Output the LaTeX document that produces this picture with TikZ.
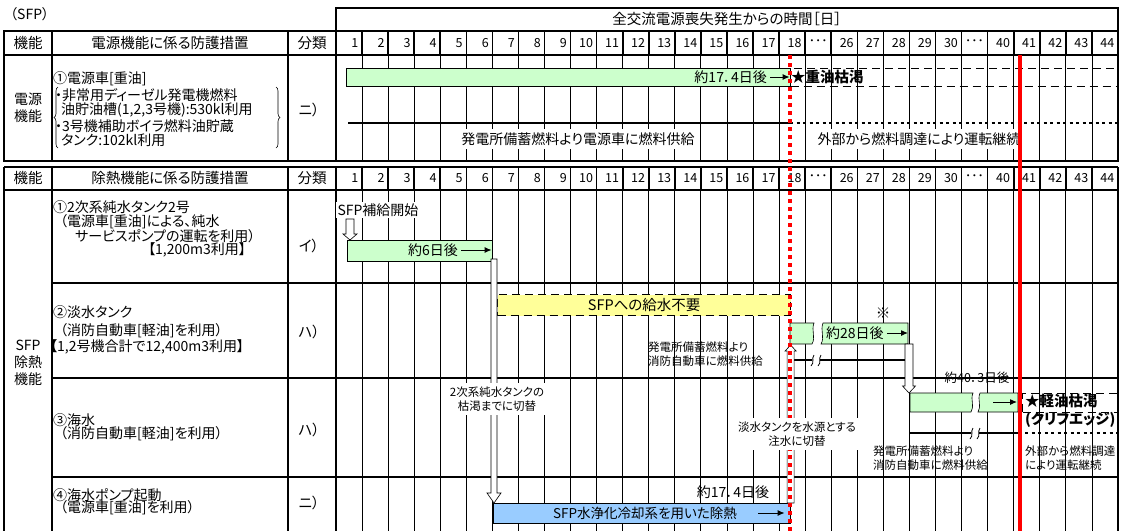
\documentclass[tikz,border=0pt]{standalone}
\usepackage{fontspec}
\setmainfont[RawFeature=+palt]{Noto Sans CJK JP}
\usetikzlibrary{calc}
\usetikzlibrary{arrows.meta}
\usetikzlibrary{decorations.pathreplacing}
\definecolor{palegreen}{RGB}{204, 255, 204}
\definecolor{paleyellow}{RGB}{255, 255, 153}
\definecolor{paleblue}{RGB}{153, 204, 255}
\definecolor{signalred}{RGB}{255, 0, 0}
\newcommand\fsz[1]{\fontsize{#1}{#1}\selectfont}
\newcommand\dayx[1]{336+26.067*#1}
\newcommand\hollowarrow[5]{\filldraw[fill=white, draw=black, line width=0.6pt]
    let \p1=(#1), \p2=(#2) in
    ({\x1-#3pt},\y1) -- ({\x1-#3pt},{\y2+(#5)*1pt}) -- ({\x1-#4pt},{\y2+(#5)*1pt}) -- (\x1,\y2)
    -- ({\x1+#4pt},{\y2+(#5)*1pt}) -- ({\x1+#3pt},{\y2+(#5)*1pt}) -- ({\x1+#3pt},\y1) -- cycle;}
\tikzset{
  txt/.style       ={inner sep=0pt, anchor=west, font=\fsz{14}},
  heading/.style   ={inner sep=0pt, font=\fsz{14.5}},
  daynum/.style    ={inner sep=0pt, anchor=east, font=\fsz{12.5}},
  note/.style      ={inner sep=0pt, align=left, font=\fontsize{11.5}{14.5}\selectfont},
  clearbg/.style   ={fill=white, inner xsep=2pt, inner ysep=3pt},
  gridline/.style  ={line width=0.9pt},
  rule/.style      ={line width=1.6pt},
  curly/.style     ={decorate, decoration={brace, amplitude=4pt}, line width=0.6pt},
  gbox/.style      ={draw=black, fill=palegreen, line width=0.6pt, inner sep=0pt, anchor=north west},
  gpiece/.style    ={draw=black, fill=palegreen, line width=0.6pt},
  dashbox/.style   ={draw=black, dash pattern=on 8pt off 5pt, line width=1.3pt, inner sep=0pt, anchor=north west},
  supplyline/.style={line width=2.8pt},
  extline/.style   ={line width=2.8pt, dash pattern=on 3pt off 3.5pt},
  daytip/.style    ={-{Latex[length=7pt, width=6pt]}, line width=1pt},
  brk/.style       ={line width=0.8pt},
  cliff/.style     ={signalred, line width=4.5pt},
  halfway/.style   ={signalred, line width=3.5pt, dash pattern=on 4pt off 4pt}
}
\begin{document}
\begin{tikzpicture}[x=1pt, y=-1pt]
\useasboundingbox (0,0) rectangle (1130,531);
\foreach \k in {1,...,29}{
  \draw[gridline] ({\dayx{\k}},55) -- ({\dayx{\k}},161);
  \draw[gridline] ({\dayx{\k}},190) -- ({\dayx{\k}},531);
  \draw[rule]     ({\dayx{\k}},31) -- ({\dayx{\k}},55);
  \draw[rule]     ({\dayx{\k}},167) -- ({\dayx{\k}},190);
}
\draw[rule] (336,8) rectangle (1118,31);
\draw[rule] (4,31) rectangle (1118,161);
\draw[rule] (4,55) -- (1118,55);
\draw[rule] (52,31) -- (52,161) (288,31) -- (288,161) (336,31) -- (336,161);
\draw[rule] (4,167) -- (4,531) (52,167) -- (52,531) (288,167) -- (288,531) (336,167) -- (336,531) (1118,167) -- (1118,531);
\draw[rule] (4,190) -- (1118,190);
\draw[rule] (52,283) -- (1118,283) (52,378) -- (1118,378) (52,477) -- (1118,477);
\draw[line width=2.6pt] (4,167) -- (1118,167);
\foreach \lab [count=\k] in {1,2,3,4,5,6,7,8,9,10,11,12,13,14,15,16,17,18,･･･,26,27,28,29,30,･･･,40,41,42,43,44}{
  \node[daynum] (daya\k) at ({\dayx{\k}-3.5},43) {\lab};
  \node[daynum] (dayb\k) at ({\dayx{\k}-3.5},178) {\lab};
}
\node[txt]     (sfptag)  at (10,14)   {（SFP）};
\node[heading] (elapsed) at (727,19)  {全交流電源喪失発生からの時間［日］};
\node[heading] (func1)   at (28,43)   {機能};
\node[heading] (meas1)   at (170,43)  {電源機能に係る防護措置};
\node[heading] (class1)  at (312,43)  {分類};
\node[heading] (func2)   at (28,178)  {機能};
\node[heading] (meas2)   at (170,178) {除熱機能に係る防護措置};
\node[heading] (class2)  at (312,178) {分類};
\node[heading, align=center, font=\fontsize{14}{17}\selectfont] (powerfunc) at (28,108) {電源\\機能};
\node[heading, align=center, font=\fontsize{14}{17}\selectfont] (coolfunc)  at (28,363) {SFP\\除熱\\機能};
\node[txt] (pw1) at (53,79)  {①電源車[重油]};
\node[txt] (pw2) at (55,95)  {・非常用ディーゼル発電機燃料};
\node[txt] (pw3) at (61,110) {油貯油槽(1,2,3号機):530kl利用};
\node[txt] (pw4) at (55,126) {・3号機補助ボイラ燃料油貯蔵};
\node[txt] (pw5) at (61,140) {タンク:102kl利用};
\draw[curly] (58,148) -- (58,87);
\draw[curly] (276,87) -- (276,148);
\node[heading] (pwclass) at (309,110) {ニ）};
\node[txt] (m1a) at (53,207)  {①2次系純水タンク2号};
\node[txt] (m1b) at (60,222)  {（電源車[重油]による、純水};
\node[txt] (m1c) at (75,236)  {サービスポンプの運転を利用）};
\node[txt] (m1d) at (148,250) {【1,200m3利用】};
\node[heading] (cl1) at (309,246) {イ）};
\node[txt] (m2a) at (53,312)  {②淡水タンク};
\node[txt] (m2b) at (60,331)  {（消防自動車[軽油]を利用）};
\node[txt] (m2c) at (50,347)  {【1,2号機合計で12,400m3利用】};
\node[heading] (cl2) at (309,332) {ハ）};
\node[txt] (m3a) at (53,420)  {③海水};
\node[txt] (m3b) at (60,434)  {（消防自動車[軽油]を利用）};
\node[heading] (cl3) at (309,430) {ハ）};
\node[txt] (m4a) at (53,495)  {④海水ポンプ起動};
\node[txt] (m4b) at (60,508)  {（電源車[重油]を利用）};
\node[heading] (cl4) at (309,503) {ニ）};
\node[clearbg, font=\fsz{14}] (supplynote)  at (578,139) {発電所備蓄燃料より電源車に燃料供給};
\node[clearbg, font=\fsz{14}] (outsidenote) at (919,139) {外部から燃料調達により運転継続};
\node[gbox, minimum width=444pt, minimum height=18pt] (fuelbar)  at (346,68) {};
\node[dashbox, minimum width=328pt, minimum height=18pt] (heavydry) at (790,68) {};
\node[txt, anchor=east] (fueldays) at (767,77) {約17．4日後};
\draw[daytip, shorten <=3pt, shorten >=1pt] (fueldays.east) -- (fueldays.east -| fuelbar.east);
\node[txt, font=\fsz{14.5}\bfseries] (heavytxt) at (791,77) {★重油枯渇};
\coordinate (sup0) at (348,123);
\coordinate (sup1) at (790,123);
\coordinate (sup2) at (1118,123);
\draw[supplyline] (sup0) -- (sup1);
\draw[extline] (sup1) -- (sup2);
\node[clearbg, font=\fsz{14}, inner ysep=2pt] (refillstart) at (378,210) {SFP補給開始};
\node[gbox, minimum width=145pt, minimum height=21pt] (pump1) at (347,240) {};
\node[txt, anchor=east] (pump1days) at (458,250) {約6日後};
\draw[daytip, shorten <=3pt, shorten >=1pt] (pump1days.east) -- (pump1days.east -| pump1.east);
\coordinate (refilltop) at (350,219);
\hollowarrow{refilltop}{refilltop |- pump1.north}{4}{7}{6}
\node[dashbox, fill=paleyellow, minimum width=293pt, minimum height=21pt, font=\fsz{14.5}] (nofeed) at (497,294) {SFPへの給水不要};
\filldraw[gpiece] (790,323) -- (814,323) .. controls (811,331) and (816,337) .. (812,344) -- (790,344) -- cycle;
\filldraw[gpiece] (823,323) -- (908,323) -- (908,344) -- (821,344) .. controls (825,337) and (820,331) .. (823,323) -- cycle;
\coordinate (fresh0) at (790,345);
\coordinate (fresh1) at (909,344);
\node[txt] (freshdays) at (826,333) {約28日後};
\draw[daytip, shorten <=3pt, shorten >=1pt] (freshdays.east) -- (freshdays.east -| fresh1);
\node[heading] (remark) at (883,313) {※};
\draw[supplyline] (790,360) -- (812,360) (820,360) -- (905,360);
\draw[brk] (814,355) .. controls (811,359) and (815,362) .. (811,366) (821,355) .. controls (818,359) and (822,362) .. (818,366);
\node[note, anchor=west] (freshsupply) at (648,354) {発電所備蓄燃料より\\消防自動車に燃料供給};
\filldraw[gpiece] (910,393) -- (973,393) .. controls (970,400) and (975,406) .. (971,412) -- (910,412) -- cycle;
\filldraw[gpiece] (980,393) -- (1018,393) -- (1018,412) -- (978,412) .. controls (982,406) and (977,400) .. (980,393) -- cycle;
\coordinate (sea0) at (910,393);
\coordinate (seaarrow) at (993,402);
\coordinate (seaend) at (1017,402);
\draw[daytip] (seaarrow) -- (seaend);
\node[note, font=\fsz{12.5}] (seadays) at (977,378) {約40．3日後};
\node[dashbox, minimum width=96pt, minimum height=19pt] (lightdry) at (1022,393) {};
\node[txt, anchor=north west, align=left, font=\fontsize{14.5}{18}\bfseries] (lighttxt) at (1025,394) {★軽油枯渇\\(クリフエッジ)};
\draw[supplyline] (910,433) -- (971,433) (979,433) -- (1018,433);
\draw[brk] (973,428) .. controls (970,432) and (974,435) .. (970,439) (980,428) .. controls (977,432) and (981,435) .. (977,439);
\draw[extline] (1025,433) -- (1118,433);
\node[note, anchor=west] (seasupply)  at (873,458)  {発電所備蓄燃料より\\消防自動車に燃料供給};
\node[note, anchor=west] (seaoutside) at (1025,458) {外部から燃料調達\\により運転継続};
\node[gbox, fill=paleblue, minimum width=297pt, minimum height=20pt] (cool) at (493,503) {};
\node[heading, font=\fsz{13.5}] (cooltxt) at (645,513) {SFP水浄化冷却系を用いた除熱};
\coordinate (cooltip) at (758,513);
\draw[daytip, shorten >=6pt] (cooltip) -- (cooltip -| cool.east);
\node[heading, font=\fsz{14}] (cooldays) at (733,492) {約17．4日後};
\coordinate (switch0) at (494,259);
\hollowarrow{switch0}{switch0 |- cool.north}{3}{7}{10}
\hollowarrow{fresh1}{fresh1 |- sea0}{4}{6.5}{7}
\hollowarrow{cool.north east}{fresh0}{3.5}{5.5}{-6}
\draw[halfway] (790,55) -- (790,531);
\draw[cliff] (1020,55) -- (1020,531);
\node[note, clearbg, align=center] (switchnote) at (497,399) {2次系純水タンクの\\枯渇までに切替};
\node[note, clearbg, align=center] (freshnote)  at (797,434) {淡水タンクを水源とする\\注水に切替};
\end{tikzpicture}
\end{document}
